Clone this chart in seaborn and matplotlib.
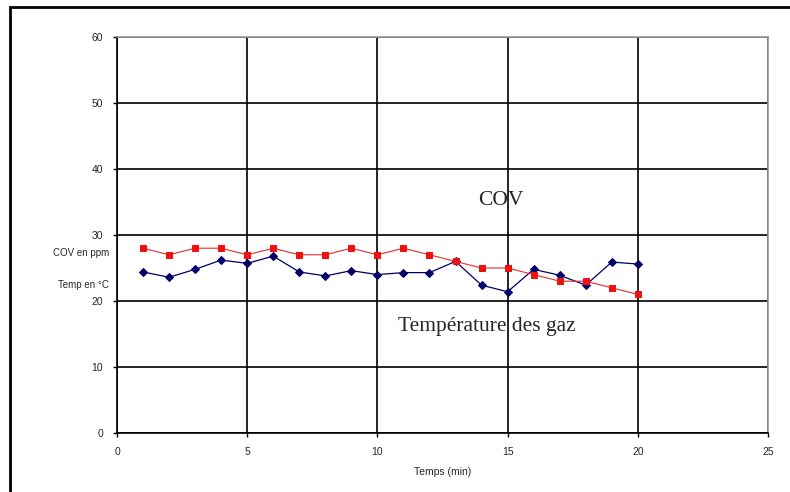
import matplotlib
matplotlib.use('Agg')
import matplotlib.pyplot as plt
import pandas as pd
import seaborn as sns
from matplotlib.patches import Rectangle

sns.set_style('white')
plt.rcParams['font.family'] = ['Liberation Sans Narrow', 'Liberation Sans', 'DejaVu Sans']

temps = list(range(1, 21))
cov_ppm = [28, 27, 28, 28, 27, 28, 27, 27, 28, 27, 28, 27, 26, 25, 25, 24, 23, 23, 22, 21]
temp_gaz = [24.4, 23.6, 24.8, 26.2, 25.7, 26.8, 24.4, 23.8, 24.6, 24.0,
            24.3, 24.3, 26.0, 22.4, 21.4, 24.8, 23.9, 22.4, 25.9, 25.6]

x_ticks = [0, 5, 10, 15, 20, 25]
y_ticks = [0, 10, 20, 30, 40, 50, 60]

df_cov = pd.DataFrame({'t': temps, 'v': cov_ppm})
df_temp = pd.DataFrame({'t': temps, 'v': temp_gaz})

fig = plt.figure(figsize=(7.9, 4.92), dpi=100)
ax = fig.add_axes([117 / 790, 1 - 433 / 492, (768 - 117) / 790, (433 - 37) / 492])

sns.lineplot(data=df_temp, x='t', y='v', ax=ax, color='#000066', lw=0.9,
             marker='D', markersize=3.8, markeredgecolor='#000066', zorder=3)
sns.lineplot(data=df_cov, x='t', y='v', ax=ax, color='#e0302a', lw=0.8,
             marker='s', markersize=4.3, markerfacecolor='#ee1111',
             markeredgecolor='#ee1111', zorder=4)

ax.set_xlim(0, 25)
ax.set_ylim(0, 60)
ax.set_xticks(x_ticks)
ax.set_yticks(y_ticks)
ax.grid(True, color='black', lw=1.2)
ax.tick_params(axis='both', labelsize=7.5, length=3, width=1, color='black',
               direction='out', left=True, bottom=True, pad=7)
for side in ('left', 'bottom'):
    ax.spines[side].set_color('black')
    ax.spines[side].set_linewidth(1.2)
for side in ('top', 'right'):
    ax.spines[side].set_color('#999999')
    ax.spines[side].set_linewidth(1.2)

ax.set_xlabel('Temps (min)', fontsize=7.5, labelpad=7)
ax.set_ylabel('')

ax.text(-0.3, 27.3, 'COV en ppm', ha='right', va='center', fontsize=7, clip_on=False)
ax.text(-0.3, 22.4, 'Temp en °C', ha='right', va='center', fontsize=7, clip_on=False)

ax.text(14.75, 35.2, 'COV', ha='center', va='center', fontsize=15.5,
        family=['Liberation Serif', 'DejaVu Serif'])
ax.text(14.2, 16.2, 'Température des gaz', ha='center', va='center', fontsize=15.5,
        family=['Liberation Serif', 'DejaVu Serif'])

# outer frame (only top and left visible in the crop)
fig.patches.append(Rectangle((10 / 790, -0.1), 1.2, 1 - 7 / 492 + 0.1,
                             transform=fig.transFigure, fill=False,
                             edgecolor='black', lw=2))

fig.savefig('out.png', dpi=100)
